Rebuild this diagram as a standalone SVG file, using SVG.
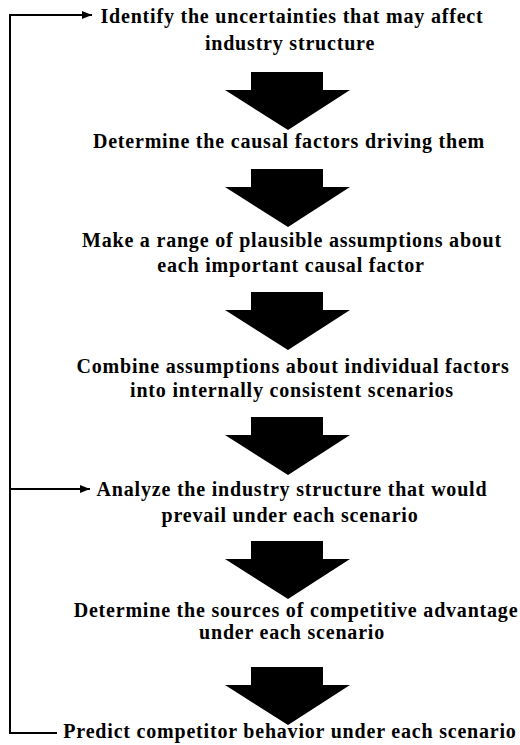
<svg xmlns="http://www.w3.org/2000/svg" width="520" height="745" viewBox="0 0 520 745">
<defs>
<style>
.t{font-family:"Liberation Serif","Times New Roman",serif;font-weight:bold;font-size:20px;letter-spacing:0.8px;fill:#000;text-anchor:middle}
.ln{fill:none;stroke:#000;stroke-width:2}
.big{fill:#000}
</style>
<marker id="ah" viewBox="0 0 10 8" refX="10" refY="4" markerWidth="12" markerHeight="8" markerUnits="userSpaceOnUse" orient="auto">
<path d="M0,0 L10,4 L0,8 Z" fill="#000"/>
</marker>
<path id="bigArrow" class="big" d="M-37,0 H35 V18 H62 L0,58 L-63,18 H-37 Z"/>
</defs>
<rect width="520" height="745" fill="#fff"/>
<g id="connectors">
<path class="ln" d="M57,733 H10 V15 H92" marker-end="url(#ah)"/>
<path class="ln" d="M10,489 H90" marker-end="url(#ah)"/>
<use href="#bigArrow" x="288" y="72"/>
<use href="#bigArrow" x="288" y="169"/>
<use href="#bigArrow" x="288" y="292"/>
<use href="#bigArrow" x="288" y="417"/>
<use href="#bigArrow" x="288" y="541"/>
<use href="#bigArrow" x="288" y="667"/>
</g>
<g id="n1"><text class="t" x="292" y="23">Identify the uncertainties that may affect</text><text class="t" x="290" y="50">industry structure</text></g>
<g id="n2"><text class="t" x="289" y="148">Determine the causal factors driving them</text></g>
<g id="n3"><text class="t" x="292" y="247">Make a range of plausible assumptions about</text><text class="t" x="291" y="272">each important causal factor</text></g>
<g id="n4"><text class="t" x="293" y="373">Combine assumptions about individual factors</text><text class="t" x="292" y="397">into internally consistent scenarios</text></g>
<g id="n5"><text class="t" x="292" y="496">Analyze the industry structure that would</text><text class="t" x="290" y="522">prevail under each scenario</text></g>
<g id="n6"><text class="t" x="296" y="617">Determine the sources of competitive advantage</text><text class="t" x="292" y="639">under each scenario</text></g>
<g id="n7"><text class="t" x="290" y="738">Predict competitor behavior under each scenario</text></g>
</svg>
